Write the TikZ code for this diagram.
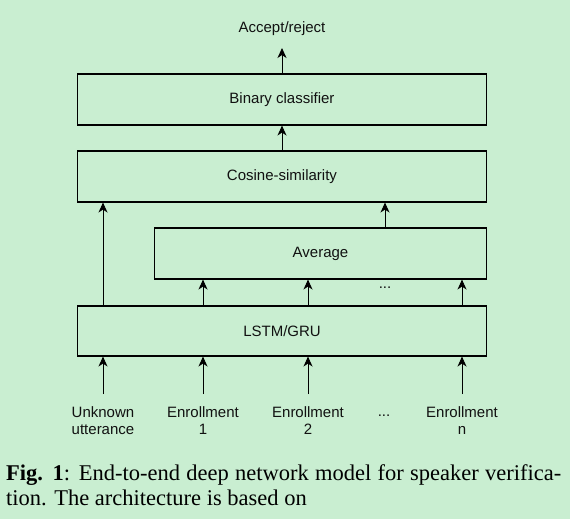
\documentclass[tikz,border=0pt]{standalone}
\usepackage{fontspec}
\setmainfont{Liberation Serif}
\setsansfont{Liberation Sans}
\usetikzlibrary{arrows.meta}
\definecolor{bggreen}{HTML}{C9EED1}
\definecolor{inkgray}{HTML}{111111}
\newcommand{\diagfont}{\sffamily\fontsize{15}{17}\selectfont}

\begin{document}
\begin{tikzpicture}[
  x=1pt, y=-1pt,
  >={Stealth[length=10pt, width=9pt, inset=3pt]},
  layerbox/.style={draw=black, line width=1.1pt, minimum height=51pt, inner sep=0pt,
                   font=\diagfont, text=inkgray},
  iolabel/.style={font=\diagfont, align=center, inner xsep=2pt, inner ysep=12pt, text=inkgray},
  feed/.style={->, line width=0.9pt},
]

% Background
\path[use as bounding box, fill=bggreen] (0,0) rectangle (570,519);

% ============ Layers ============
\node[layerbox, minimum width=409pt] (binary) at (282,99.5) {Binary classifier};
\node[layerbox, minimum width=409pt] (cosine) at (282,176.5) {Cosine-similarity};
\node[layerbox, minimum width=332pt] (average) at (320.5,253.5) {Average};
\node[layerbox, minimum width=409pt, minimum height=50pt] (lstm) at (282,331) {LSTM/GRU};

% Output label
\node[iolabel, anchor=south] (accept) at (282,48) {Accept/reject};

% Input labels
\node[iolabel, anchor=north] (unk) at (103,394) {Unknown\\utterance};
\node[iolabel, anchor=north] (enr1) at (203,394) {Enrollment\\1};
\node[iolabel, anchor=north] (enr2) at (308,394) {Enrollment\\2};
\node[iolabel, anchor=north] (indots) at (384,394) {\vphantom{E}...};
\node[iolabel, anchor=north] (enrn) at (462,394) {Enrollment\\n};

% Dots between LSTM and average
\node[font=\diagfont, text=inkgray] (avgdots) at (385,288) {...};

% ============ Connectors ============
\draw[feed] (binary.north) -- (binary.north |- accept.south);
\draw[feed] (cosine) -- (binary);
\draw[feed] (lstm.north -| unk) -- (cosine.south -| unk);
\draw[feed] (average.north -| avgdots) -- (cosine.south -| avgdots);
\foreach \e in {enr1, enr2, enrn}
  \draw[feed] (lstm.north -| \e) -- (average.south -| \e);
\foreach \i in {unk, enr1, enr2, enrn}
  \draw[feed] (\i.north) -- (\i.north |- lstm.south);

% Caption
\node[anchor=north west, inner sep=0pt, text width=555pt, align=justify,
      font=\fontsize{22.5}{25.5}\selectfont] (caption) at (6,464)
  {\textbf{Fig. 1}: End-to-end deep network model for speaker verifica-\linebreak tion. The architecture is based on};

\end{tikzpicture}
\end{document}
